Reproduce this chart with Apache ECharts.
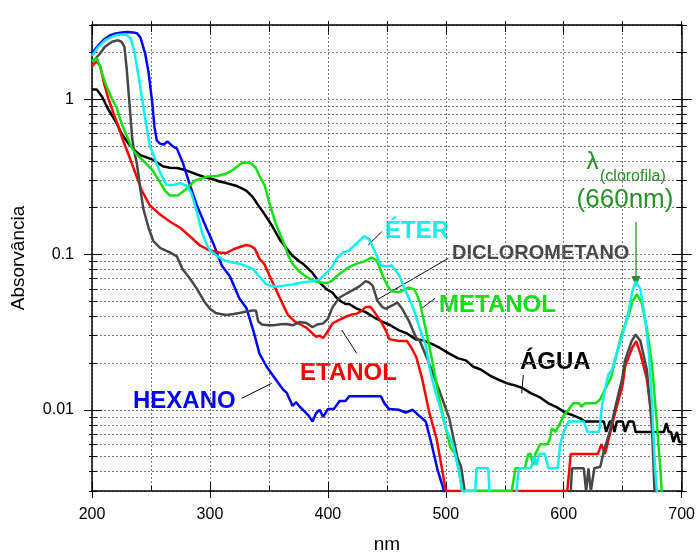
<!DOCTYPE html>
<html>
<head>
<meta charset="utf-8">
<script src="https://cdn.jsdelivr.net/npm/echarts@6/dist/echarts.min.js"></script>
<style>
  html, body { margin: 0; padding: 0; background: #fff; }
  #chart { width: 698px; height: 559px; }
</style>
</head>
<body>
<div id="chart"></div>
<script>
// [nm, absorvância]
const hexano = [[200,1.98],[205,2.2],[210,2.42],[215,2.57],[220,2.65],[225,2.68],[230,2.7],[235,2.68],[238,2.66],[241,2.5],[245,1.98],[248,1.48],[251,0.96],[253,0.66],[255,0.54],[258,0.515],[261,0.51],[264,0.535],[268,0.5],[272,0.48],[277,0.39],[283,0.28],[289,0.207],[297,0.148],[303,0.117],[310,0.085],[317,0.072],[325,0.052],[331,0.045],[337,0.032],[342,0.023],[348,0.019],[354,0.0164],[362,0.0135],[365,0.0129],[370,0.0106],[373,0.0112],[376,0.0105],[380,0.0098],[384,0.0091],[387,0.0084],[390,0.0095],[393,0.01],[396,0.009],[400,0.0101],[405,0.0101],[410,0.0114],[415,0.0114],[418,0.0122],[445,0.0122],[448,0.011],[452,0.0101],[460,0.01],[466,0.0096],[472,0.01],[477,0.0092],[483,0.0084],[488,0.006],[493,0.0041],[498,0.0031],[502,0.001]];

const eter = [[200,1.9],[205,2.15],[211,2.39],[217,2.52],[222,2.6],[229,2.6],[233,2.45],[236,2.0],[239,1.48],[242,1.06],[245,0.76],[249,0.5],[252,0.44],[255,0.38],[258,0.335],[263,0.28],[269,0.28],[275,0.288],[280,0.277],[284,0.251],[289,0.188],[293,0.141],[297,0.117],[300,0.106],[306,0.098],[312,0.092],[318,0.089],[325,0.087],[331,0.084],[337,0.08],[342,0.072],[348,0.064],[356,0.062],[363,0.063],[370,0.064],[378,0.066],[385,0.067],[393,0.069],[398,0.075],[403,0.082],[408,0.095],[413,0.103],[418,0.106],[424,0.117],[428,0.125],[431,0.131],[435,0.125],[438,0.112],[441,0.1],[445,0.085],[450,0.084],[454,0.085],[457,0.08],[461,0.072],[465,0.06],[469,0.052],[473,0.044],[477,0.035],[483,0.026],[486,0.019],[490,0.014],[494,0.0112],[500,0.0076],[506,0.006],[511,0.0041],[514,0.003],[525,0.003],[526,0.0042],[536,0.0042],[537,0.003],[541,0.001],[556,0.001],[560,0.003],[562,0.0042],[572,0.0042],[575,0.005],[577,0.0044],[579,0.0052],[584,0.0052],[587,0.0042],[595,0.0042],[597,0.006],[600,0.0072],[604,0.0084],[617,0.0084],[620,0.0072],[630,0.0072],[632.5,0.0106],[635,0.0136],[638,0.017],[641,0.018],[644,0.022],[650,0.0305],[655,0.043],[658,0.057],[661,0.067],[665,0.06],[669,0.0385],[672,0.024],[675,0.0106],[677.5,0.0041],[679,0.003],[681,0.001]];

const etanol = [[200,1.63],[204,1.75],[207,1.63],[210,1.28],[214,1.0],[218,0.82],[222,0.68],[226,0.55],[230,0.46],[234,0.38],[237,0.33],[242,0.26],[249,0.207],[258,0.18],[266,0.163],[275,0.148],[283,0.131],[291,0.115],[300,0.106],[308,0.103],[314,0.102],[320,0.108],[326,0.112],[331,0.115],[335,0.113],[338,0.109],[342,0.094],[346,0.087],[352,0.069],[359,0.053],[366,0.041],[372,0.037],[378,0.035],[382,0.0336],[387,0.031],[390,0.0295],[393,0.03],[396,0.029],[399,0.0312],[404,0.036],[410,0.038],[415,0.0397],[420,0.041],[424,0.0414],[428,0.043],[432,0.0458],[436,0.046],[441,0.041],[445,0.037],[449,0.0326],[452,0.0285],[460,0.0277],[467,0.0277],[471,0.025],[475,0.0218],[480,0.0158],[486,0.0096],[492,0.0066],[497,0.0041],[500,0.003],[603,0.003],[606,0.0052],[629,0.0052],[632,0.006],[635,0.0052],[639,0.0069],[642,0.0086],[646,0.0112],[650,0.0145],[652,0.019],[658,0.025],[661.5,0.0277],[665,0.023],[670.5,0.0158],[673.4,0.0106],[676,0.006],[678,0.003],[680,0.001]];

const metanol = [[200,1.75],[204,1.84],[207,1.6],[211,1.28],[217,1.0],[221,0.875],[225,0.7],[230,0.568],[234,0.48],[237,0.447],[244,0.397],[251,0.352],[256,0.305],[262,0.257],[266,0.24],[273,0.24],[280,0.264],[287,0.298],[297,0.316],[306,0.32],[314,0.332],[320,0.352],[325,0.378],[328,0.39],[334,0.39],[339,0.36],[342,0.32],[346.5,0.277],[351,0.207],[356,0.156],[362,0.122],[366,0.1],[370,0.087],[376,0.0775],[382,0.0717],[388,0.0674],[394,0.066],[400,0.0656],[404,0.068],[407,0.072],[412,0.077],[418,0.083],[424,0.087],[430,0.0896],[437,0.0953],[440,0.093],[442,0.0896],[445,0.078],[448,0.0687],[451,0.062],[454,0.058],[460,0.057],[464,0.059],[468,0.061],[473,0.06],[476,0.054],[478,0.049],[483,0.033],[489,0.0198],[494,0.0122],[500,0.0076],[504,0.0057],[508,0.0052],[511,0.0041],[514,0.003],[556,0.003],[559,0.0042],[567,0.0042],[570,0.0052],[572,0.0052],[574,0.0044],[576,0.0052],[580,0.006],[586,0.006],[588,0.0064],[590,0.0076],[593,0.0072],[597,0.0082],[600,0.0092],[604,0.01],[608,0.011],[613,0.011],[615,0.0105],[618,0.011],[627,0.011],[631,0.0117],[635,0.0136],[640,0.016],[643,0.02],[649,0.0305],[656,0.043],[658,0.049],[662,0.0556],[666,0.049],[670.5,0.0336],[675,0.019],[679,0.0081],[682,0.0041],[683,0.003],[685,0.001]];

const dicloro = [[200,1.73],[206,1.93],[211,2.17],[217,2.34],[222,2.39],[225,2.34],[227.5,2.17],[229.5,1.55],[231,1.11],[232.5,0.8],[234,0.57],[235.5,0.47],[238,0.387],[241,0.264],[243.5,0.197],[248,0.148],[252,0.122],[258,0.11],[266,0.103],[272,0.097],[277,0.08],[283,0.07],[289,0.06],[295,0.05],[300,0.0447],[305,0.042],[309,0.0414],[314,0.0408],[320,0.0414],[325,0.042],[331,0.0429],[336,0.0435],[339,0.0435],[341,0.037],[344,0.0354],[350,0.035],[354,0.035],[360,0.0355],[365,0.0357],[370,0.035],[376,0.0367],[382,0.0362],[387,0.034],[391,0.0354],[396,0.036],[400,0.0385],[404,0.0458],[410,0.0528],[414,0.055],[418,0.0572],[423,0.06],[427,0.0625],[432,0.0673],[435,0.066],[438,0.063],[442,0.0503],[446,0.046],[449,0.0447],[455,0.0471],[459,0.049],[463,0.0447],[469,0.0369],[475,0.029],[478,0.0277],[486,0.0198],[494,0.0136],[503,0.0088],[507,0.0063],[510,0.0049],[513,0.0043],[516,0.003],[518,0.001],[604,0.001],[606,0.003],[607,0.0042],[617,0.0042],[619,0.003],[621,0.0042],[623,0.003],[626,0.0042],[631,0.0043],[634,0.0054],[639,0.0072],[644,0.0106],[649.5,0.0158],[652,0.0208],[657.6,0.0277],[661,0.0305],[665,0.0277],[670.5,0.0181],[674.7,0.0081],[677,0.003],[679,0.001]];

const agua = [[200,1.155],[204,1.155],[208.5,1.035],[214,0.854],[220,0.72],[225,0.6],[231,0.516],[236,0.469],[241,0.436],[245,0.425],[252,0.406],[260,0.37],[266,0.362],[272,0.36],[280,0.348],[289,0.327],[297,0.312],[303,0.305],[308,0.295],[314,0.288],[322,0.277],[328,0.264],[331,0.257],[336,0.236],[341,0.207],[345,0.188],[352,0.156],[360,0.122],[366,0.107],[370,0.098],[376,0.09],[379,0.087],[387,0.076],[393,0.066],[399,0.0596],[404,0.0567],[407,0.053],[411,0.05],[415,0.048],[418,0.048],[424,0.045],[432,0.0425],[440,0.039],[446,0.0369],[453,0.035],[460,0.0326],[467,0.031],[475,0.0283],[481,0.028],[489,0.0264],[495,0.025],[503,0.023],[510,0.0215],[517,0.0208],[523,0.019],[530,0.0181],[538,0.0165],[545,0.0156],[552,0.0148],[558,0.0144],[565,0.0138],[572,0.0128],[580,0.012],[587,0.011],[594,0.0104],[601,0.0096],[608,0.0092],[614,0.0088],[618,0.0084],[634,0.0084],[636,0.0072],[639,0.0084],[641,0.0084],[643,0.0072],[645,0.0084],[650,0.0084],[652,0.0072],[655,0.0084],[659,0.0084],[661,0.0072],[685,0.0072],[687,0.0082],[689,0.0072],[691,0.0072],[693,0.0062],[696,0.0072],[698,0.0062],[700,0.0062]];

const xLabels = [200, 300, 400, 500, 600, 700];
const yLabels = [0.01, 0.1, 1];

const font = '"Liberation Sans", Arial, Helvetica, sans-serif';

// ticks menores da escala log (1..9 de cada década)
const yMinor = [];
[-3, -2, -1, 0].forEach(function (e) {
    for (let k = 1; k <= 9; k++) {
        const v = Number((k * Math.pow(10, e)).toPrecision(2));
        if (v >= 0.003 && v <= 3) yMinor.push(v);
    }
});

const gridLine = { show: true, lineStyle: { color: '#777', width: 1, type: [2, 2] } };

function yAx(pos, vals, inside, len, extra) {
    return Object.assign({
        type: 'log', logBase: 10, min: 0.003, max: 3, position: pos,
        axisLine: { show: false },
        axisTick: { show: true, inside: inside, length: len, customValues: vals, lineStyle: { color: '#000', width: 1 } },
        axisLabel: { show: false },
        splitLine: { show: false }
    }, extra || {});
}
function xAx(pos, step, inside, len, extra) {
    return Object.assign({
        type: 'value', min: 200, max: 700, interval: step, position: pos,
        axisLine: { show: false },
        axisTick: { show: true, inside: inside, length: len, lineStyle: { color: '#000', width: 1 } },
        axisLabel: { show: false },
        splitLine: { show: false }
    }, extra || {});
}

const frame = { show: true, lineStyle: { color: '#000', width: 1.5 } };

const chart = echarts.init(document.getElementById('chart'));
chart.setOption({
    animation: false,
    textStyle: { fontFamily: font },
    grid: { left: 92, right: 15, top: 25, bottom: 57 },
    xAxis: [
        xAx('bottom', 100, false, 7, {
            axisLine: frame,
            axisLabel: { show: true, fontSize: 16, color: '#000', margin: 16, fontFamily: font },
            name: 'nm', nameLocation: 'middle', nameGap: 44,
            nameTextStyle: { fontSize: 19, color: '#000', fontFamily: font }
        }),
        xAx('bottom', 100, true, 9),
        xAx('bottom', 50, true, 5, { splitLine: gridLine }),
        xAx('top', 50, false, 4, { axisLine: frame }),
        xAx('top', 100, true, 10),
        xAx('top', 50, true, 7)
    ],
    yAxis: [
        yAx('left', yLabels, false, 8, {
            axisLine: frame,
            axisLabel: {
                show: true, customValues: yLabels, fontSize: 16, color: '#000', margin: 18, fontFamily: font,
                formatter: function (v) { return String(v); }
            },
            name: 'Absorvância', nameLocation: 'middle', nameGap: 64,
            nameTextStyle: { fontSize: 19, color: '#000', fontFamily: font }
        }),
        yAx('left', yLabels, true, 10),
        yAx('left', yMinor, false, 3),
        yAx('left', yMinor, true, 5, { splitLine: gridLine }),
        yAx('right', yLabels, false, 10, { axisLine: frame }),
        yAx('right', yLabels, true, 10),
        yAx('right', yMinor, false, 5),
        yAx('right', yMinor, true, 5)
    ],
    series: [
        { name: 'ÁGUA', data: agua, color: '#000000' },
        { name: 'HEXANO', data: hexano, color: '#0000ff' },
        { name: 'ETANOL', data: etanol, color: '#ff0000' },
        { name: 'DICLOROMETANO', data: dicloro, color: '#474747' },
        { name: 'METANOL', data: metanol, color: '#11e011' },
        { name: 'ÉTER', data: eter, color: '#11eeee' }
    ].map(function (s) {
        return {
            name: s.name, type: 'line', data: s.data, xAxisIndex: 0, yAxisIndex: 0,
            showSymbol: false, clip: true, silent: true,
            lineStyle: { color: s.color, width: 2.5 }
        };
    }),
    graphic: [
        { type: 'text', x: 385, y: 231, style: { text: 'ÉTER', font: 'bold 24px ' + font, fill: '#11eeee', verticalAlign: 'middle' } },
        { type: 'line', shape: { x1: 381.7, y1: 231.7, x2: 368.3, y2: 245 }, style: { stroke: '#000', lineWidth: 1 } },
        { type: 'text', x: 452, y: 253, style: { text: 'DICLOROMETANO', font: 'bold 20px ' + font, fill: '#474747', verticalAlign: 'middle' } },
        { type: 'line', shape: { x1: 448.3, y1: 258.3, x2: 376.7, y2: 300 }, style: { stroke: '#000', lineWidth: 1 } },
        { type: 'text', x: 439, y: 305, style: { text: 'METANOL', font: 'bold 24px ' + font, fill: '#11e011', verticalAlign: 'middle' } },
        { type: 'line', shape: { x1: 435, y1: 298.3, x2: 421.7, y2: 308.3 }, style: { stroke: '#000', lineWidth: 1 } },
        { type: 'text', x: 520, y: 362, style: { text: 'ÁGUA', font: 'bold 24px ' + font, fill: '#000', verticalAlign: 'middle' } },
        { type: 'line', shape: { x1: 523.3, y1: 375, x2: 521.7, y2: 393.3 }, style: { stroke: '#000', lineWidth: 1 } },
        { type: 'text', x: 300, y: 373, style: { text: 'ETANOL', font: 'bold 24px ' + font, fill: '#ff0000', verticalAlign: 'middle' } },
        { type: 'line', shape: { x1: 356.7, y1: 353.3, x2: 341.7, y2: 330 }, style: { stroke: '#000', lineWidth: 1 } },
        { type: 'text', x: 133, y: 401, style: { text: 'HEXANO', font: 'bold 24px ' + font, fill: '#0000ff', verticalAlign: 'middle' } },
        { type: 'line', shape: { x1: 241.7, y1: 398.3, x2: 271.7, y2: 383.3 }, style: { stroke: '#000', lineWidth: 1 } },
        { type: 'text', x: 592.5, y: 162, style: { text: 'λ', font: '24px ' + font, fill: '#259025', align: 'center', verticalAlign: 'middle' } },
        { type: 'text', x: 600, y: 176.5, style: { text: '(clorofila)', font: '16px ' + font, fill: '#259025', verticalAlign: 'middle' } },
        { type: 'text', x: 625, y: 200, style: { text: '(660nm)', font: '26px ' + font, fill: '#259025', align: 'center', verticalAlign: 'middle' } },
        { type: 'line', shape: { x1: 636, y1: 222, x2: 636, y2: 278 }, style: { stroke: '#259025', lineWidth: 1.3 } },
        { type: 'polygon', shape: { points: [[631.5, 276], [640.5, 276], [636, 287]] }, style: { fill: '#259025' } }
    ]
});
</script>
</body>
</html>
